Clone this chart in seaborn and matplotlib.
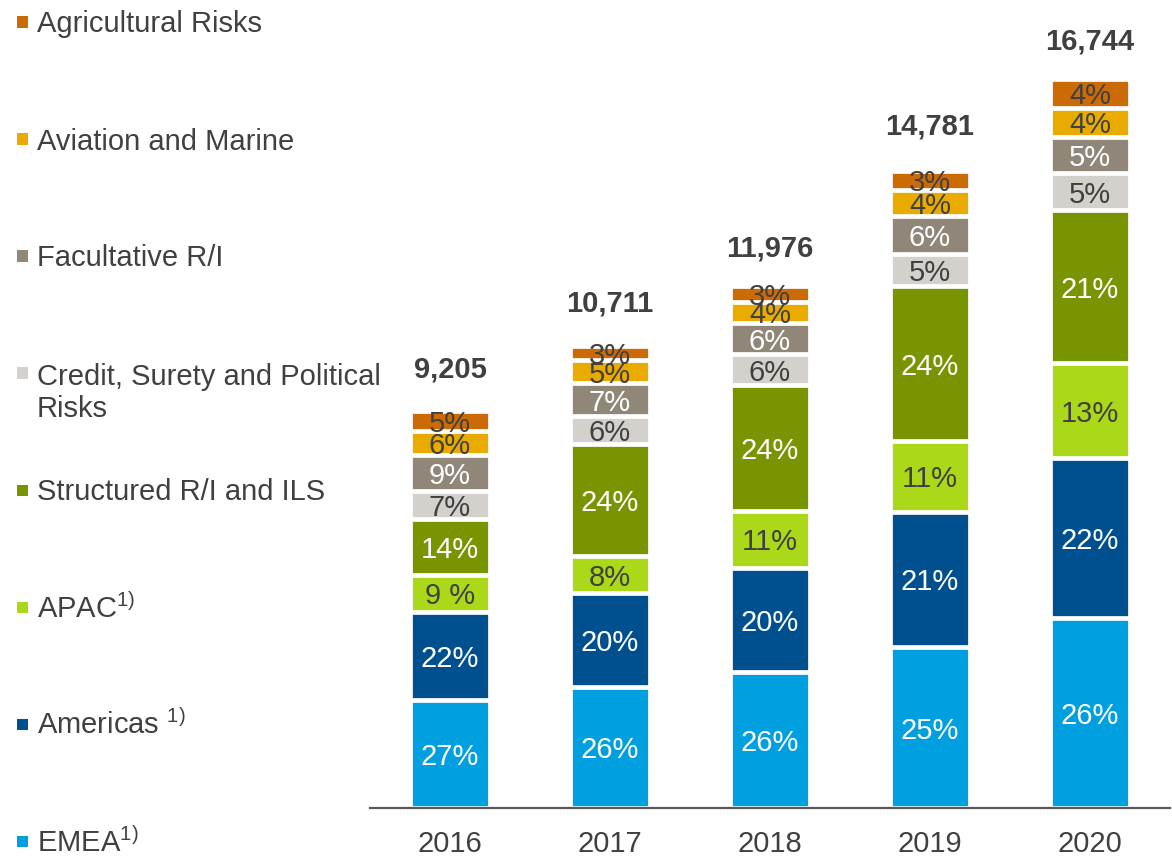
import numpy as np
import matplotlib
matplotlib.use("Agg")
import matplotlib.pyplot as plt
from matplotlib.patches import Rectangle
import seaborn as sns

years = ["2016", "2017", "2018", "2019", "2020"]
totals = [9205, 10711, 11976, 14781, 16744]

# shares in % of the yearly total, bottom segment first
emea = [27, 26, 26, 25, 26]
americas = [22, 20, 20, 21, 22]
apac = [9, 8, 11, 11, 13]
structured = [14, 24, 24, 24, 21]
credit = [7, 6, 6, 5, 5]
facultative = [9, 7, 6, 6, 5]
aviation = [6, 5, 4, 4, 4]
agricultural = [5, 3, 3, 3, 4]

segment_labels = [
    "EMEA$^{1)}$",
    "Americas $^{1)}$",
    "APAC$^{1)}$",
    "Structured R/I and ILS",
    "Credit, Surety and Political\nRisks",
    "Facultative R/I",
    "Aviation and Marine",
    "Agricultural Risks",
]
shares = [emea, americas, apac, structured, credit, facultative, aviation, agricultural]

colors = ["#009FE0", "#00508F", "#ABD91A", "#789400",
          "#D4D1CC", "#918779", "#EAAB00", "#CC6A06"]
text_colors = ["white", "white", "#404040", "white",
               "#404040", "white", "#404040", "#404040"]

TEXT = "#404040"
FS = 21

sns.set_style("white")
plt.rcParams["font.family"] = ["Liberation Sans", "DejaVu Sans"]
plt.rcParams["mathtext.fontset"] = "custom"
plt.rcParams["mathtext.rm"] = "Liberation Sans"
plt.rcParams["mathtext.it"] = "Liberation Sans:italic"
plt.rcParams["mathtext.bf"] = "Liberation Sans:bold"

W, H = 1172, 860
fig = plt.figure(figsize=(W / 100, H / 100), dpi=100)
ax = fig.add_axes([370 / W, 1 - 808 / H, 800 / W, 808 / H])

segments = np.array(shares) * np.array(totals) / 100.0
cumulative = np.cumsum(segments, axis=0)

# draw cumulative bars from the top down so each lower layer covers the one above
for i in reversed(range(len(shares))):
    sns.barplot(x=years, y=cumulative[i], color=colors[i], saturation=1,
                width=0.5, edgecolor="white", linewidth=3.4,
                errorbar=None, ax=ax)

for i, share in enumerate(shares):
    for j, p in enumerate(share):
        bottom = cumulative[i - 1][j] if i > 0 else 0
        mid = bottom + segments[i][j] / 2
        label = f"{p}%"
        if i == 2 and j == 0:
            label = "9 %"
        ax.text(j, mid, label, ha="center", va="center_baseline",
                color=text_colors[i], fontsize=FS)

for j, t in enumerate(totals):
    ax.annotate(f"{t:,}", (j, t), xytext=(0, 27), textcoords="offset points",
                ha="center", va="center", fontsize=FS, fontweight="bold", color=TEXT)

ax.set_xlim(-0.5, 4.5)
ax.set_ylim(0, 18550)
ax.set_yticks([])
ax.set_xlabel("")
ax.set_ylabel("")
for side in ["left", "right", "top"]:
    ax.spines[side].set_visible(False)
ax.spines["bottom"].set_color("#595959")
ax.spines["bottom"].set_linewidth(1.6)
ax.spines["bottom"].set_zorder(5)
ax.tick_params(axis="x", length=0, pad=16, labelsize=FS, labelcolor=TEXT)

# legend on the left, top entry first; baseline goes with the last line
for k, i in enumerate(reversed(range(len(shares)))):
    y = 22 + k * 117
    n_extra = segment_labels[i].count("\n")
    fig.add_artist(Rectangle((17 / W, 1 - (y + 5.5) / H), 11 / W, 11 / H,
                             transform=fig.transFigure, color=colors[i], lw=0))
    fig.text(37 / W, 1 - (y + 10.5 + 33 * n_extra) / H, segment_labels[i],
             ha="left", va="baseline", fontsize=FS, color=TEXT, linespacing=1.15)

fig.savefig("out.png", dpi=100)
